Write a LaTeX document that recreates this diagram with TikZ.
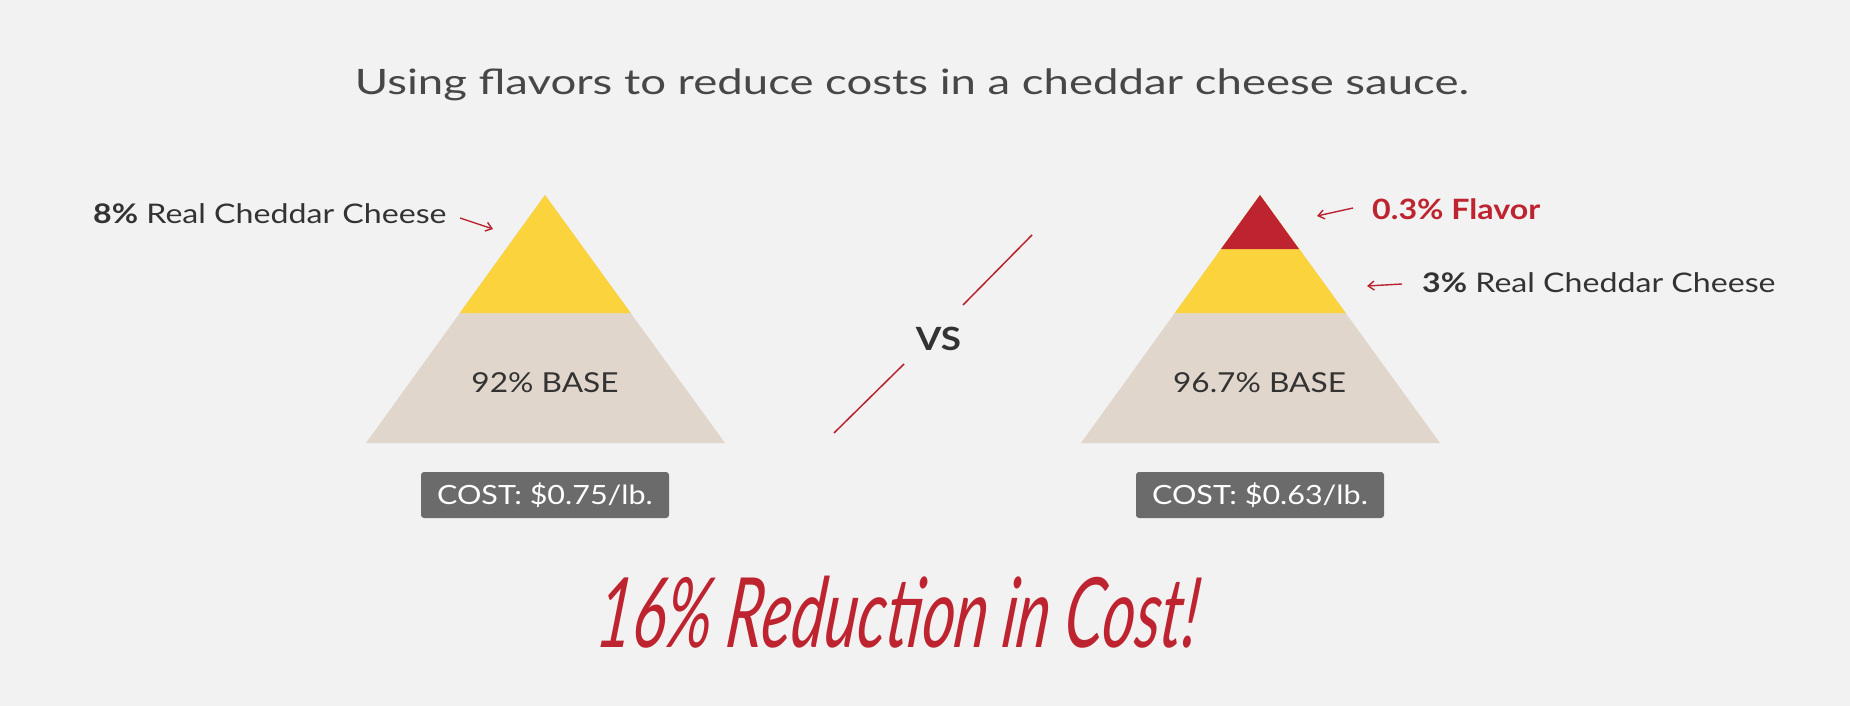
\documentclass[tikz,border=0pt]{standalone}
\usepackage{fontspec}
\setmainfont{Lato}
\newfontfamily\pn[FakeStretch=1.19]{Lato}
\newfontfamily\pnt[FakeStretch=1.3]{Lato}
\newfontfamily\pnb[FakeStretch=1.15]{Lato}
\newfontfamily\hand[FakeStretch=0.645,FakeSlant=0.12]{Lato}
\usetikzlibrary{arrows.meta}
\definecolor{bgc}{HTML}{F2F2F2}
\definecolor{cheddar}{HTML}{FBD33D}
\definecolor{basec}{HTML}{E0D6CB}
\definecolor{flav}{HTML}{BE2430}
\definecolor{ink}{HTML}{333333}
\definecolor{boxg}{HTML}{6B6B6B}
\definecolor{arrowred}{HTML}{B8232F}
\tikzset{
  lbl/.style={inner sep=0pt, text=ink, font=\pn\fontsize{27}{30}\selectfont},
  baselbl/.style={inner sep=0pt, text=ink, font=\pnb\fontsize{27.5}{30}\selectfont},
  costbox/.style={fill=boxg, rounded corners=3pt, minimum width=248pt, minimum height=46pt, inner sep=0pt, text=white, font=\pnb\fontsize{26.5}{30}\selectfont},
  redarrow/.style={draw=arrowred, line width=1.4pt, -{Straight Barb[length=6pt,width=9pt,line width=1.4pt]}},
  vsline/.style={draw=arrowred, line width=1.5pt},
}
\begin{document}
\begin{tikzpicture}[x=1pt,y=-1pt]
\fill[bgc] (0,0) rectangle (1850,706);
\useasboundingbox (0,0) rectangle (1850,706);

% title
\node[inner sep=0pt, anchor=base, text=ink!90, font=\pnt\fontsize{35}{40}\selectfont] (title) at (912,95) {Using flavors to reduce costs in a cheddar cheese sauce.};

% left pyramid
\coordinate (LA) at (545,195);
\coordinate (LBL) at (366,443);
\coordinate (LBR) at (725,443);
\fill[basec] (LBL) -- (LBR) -- (LA) -- cycle;
\fill[cheddar] (LA) -- (459.8,313) -- (630.7,313) -- cycle;
\node[baselbl, anchor=base] (lbase) at (545,392) {92\% BASE};
\node[costbox] (lcost) at (545,495) {COST: \$0.75/lb.};

% left label
\node[lbl, anchor=base west] (l8) at (93,223) {{\bfseries 8\%} Real Cheddar Cheese};
\coordinate (l8from) at (460,218);
\coordinate (l8to) at (493,229);
\draw[redarrow] (l8from) -- (l8to);

% vs
\node[inner sep=0pt, text=ink, font=\pnb\bfseries\fontsize{32}{34}\selectfont] (vs) at (938.5,338.5) {VS};
\coordinate (v1) at (1032,235);
\coordinate (v2) at (963,305);
\coordinate (v3) at (904,364);
\coordinate (v4) at (834,433);
\draw[vsline] (v1) -- (v2);
\draw[vsline] (v3) -- (v4);

% right pyramid
\coordinate (RA) at (1260,195);
\coordinate (RBL) at (1081,443);
\coordinate (RBR) at (1440,443);
\fill[basec] (RBL) -- (RBR) -- (RA) -- cycle;
\fill[cheddar] (RA) -- (1174.8,313) -- (1345.7,313) -- cycle;
\fill[flav] (RA) -- (1221,249) -- (1299,249) -- cycle;
\node[baselbl, anchor=base] (rbase) at (1259.5,392) {96.7\% BASE};
\node[costbox] (rcost) at (1260,495) {COST: \$0.63/lb.};

% right labels
\node[lbl, anchor=base west, text=flav, font=\pnb\bfseries\fontsize{28}{30}\selectfont] (fl) at (1372,219) {0.3\% Flavor};
\coordinate (flfrom) at (1353,208);
\coordinate (flto) at (1317,216);
\draw[redarrow] (flfrom) -- (flto);

\node[lbl, anchor=base west] (r3) at (1422,292) {{\bfseries 3\%} Real Cheddar Cheese};
\coordinate (r3from) at (1402,284);
\coordinate (r3to) at (1367,286);
\draw[redarrow] (r3from) -- (r3to);

% bottom
\node[inner sep=0pt, anchor=base, text=flav, font=\hand\itshape\fontsize{97}{100}\selectfont] (red) at (895,647) {16\% Reduction in Cost!};
\end{tikzpicture}
\end{document}
